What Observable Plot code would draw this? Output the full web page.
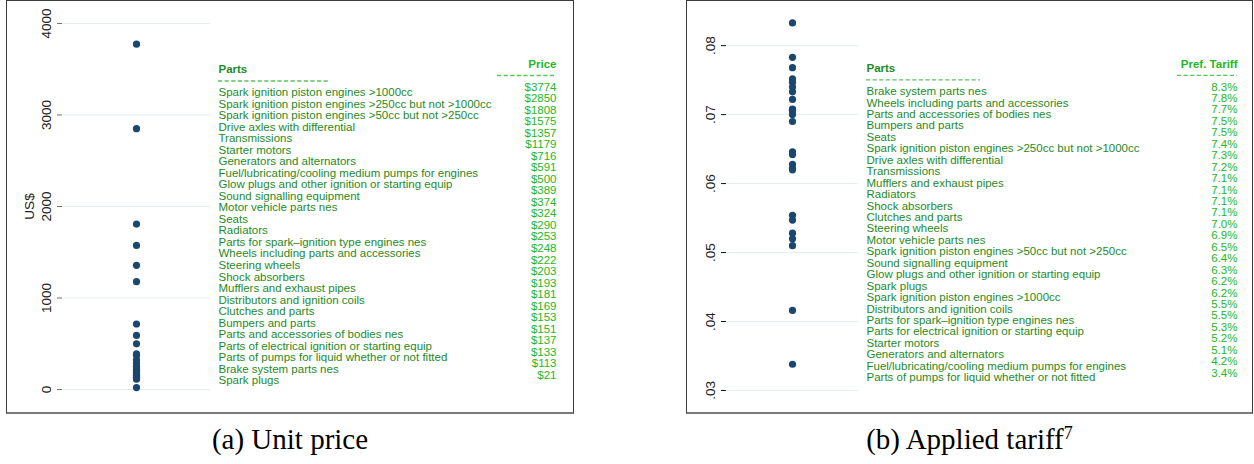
<!DOCTYPE html>
<html><head><meta charset="utf-8">
<script src="https://cdn.jsdelivr.net/npm/d3@7"></script>
<script src="https://cdn.jsdelivr.net/npm/@observablehq/plot@0.6"></script>
<style>
html,body{margin:0;padding:0;background:#fff;}
#wrap{position:relative;width:1254px;height:464px;overflow:hidden;font-family:"Liberation Sans",Arial,Helvetica,sans-serif;}
.panel{position:absolute;top:0;height:414px;border:1px solid #3a3a3a;border-bottom:2px solid #7a7a7a;box-sizing:border-box;}
.layer{position:absolute;top:0;}
.cap{position:absolute;top:425px;font-family:"Liberation Serif","Times New Roman",serif;font-size:29px;line-height:29px;text-align:center;white-space:nowrap;color:#000;}
.cap sup{font-size:18px;line-height:0;vertical-align:10px;}
</style></head><body><div id="wrap"></div>
<script>
// ---------- data ----------
const priceParts = [
  "Spark ignition piston engines >1000cc",
  "Spark ignition piston engines >250cc but not >1000cc",
  "Spark ignition piston engines >50cc but not >250cc",
  "Drive axles with differential",
  "Transmissions",
  "Starter motors",
  "Generators and alternators",
  "Fuel/lubricating/cooling medium pumps for engines",
  "Glow plugs and other ignition or starting equip",
  "Sound signalling equipment",
  "Motor vehicle parts nes",
  "Seats",
  "Radiators",
  "Parts for spark\u2013ignition type engines nes",
  "Wheels including parts and accessories",
  "Steering wheels",
  "Shock absorbers",
  "Mufflers and exhaust pipes",
  "Distributors and ignition coils",
  "Clutches and parts",
  "Bumpers and parts",
  "Parts and accessories of bodies nes",
  "Parts of electrical ignition or starting equip",
  "Parts of pumps for liquid whether or not fitted",
  "Brake system parts nes",
  "Spark plugs"
];
const priceValues = [3774, 2850, 1808, 1575, 1357, 1179, 716, 591, 500, 389, 374, 324, 290, 253, 248, 222, 203, 193, 181, 169, 153, 151, 137, 133, 113, 21];

const tariffParts = [
  "Brake system parts nes",
  "Wheels including parts and accessories",
  "Parts and accessories of bodies nes",
  "Bumpers and parts",
  "Seats",
  "Spark ignition piston engines >250cc but not >1000cc",
  "Drive axles with differential",
  "Transmissions",
  "Mufflers and exhaust pipes",
  "Radiators",
  "Shock absorbers",
  "Clutches and parts",
  "Steering wheels",
  "Motor vehicle parts nes",
  "Spark ignition piston engines >50cc but not >250cc",
  "Sound signalling equipment",
  "Glow plugs and other ignition or starting equip",
  "Spark plugs",
  "Spark ignition piston engines >1000cc",
  "Distributors and ignition coils",
  "Parts for spark\u2013ignition type engines nes",
  "Parts for electrical ignition or starting equip",
  "Starter motors",
  "Generators and alternators",
  "Fuel/lubricating/cooling medium pumps for engines",
  "Parts of pumps for liquid whether or not fitted"
];
// preferential tariff, percent
const tariffValues = [8.33, 7.83, 7.68, 7.52, 7.47, 7.4, 7.33, 7.22, 7.08, 7.07, 7.06, 7.06, 7.0, 6.9, 6.46, 6.42, 6.28, 6.22, 6.2, 5.54, 5.47, 5.28, 5.2, 5.1, 4.16, 3.38];

const priceTicks = [0, 1000, 2000, 3000, 4000];
const tariffTicks = [0.03, 0.04, 0.05, 0.06, 0.07, 0.08];
const priceHeader = ["Parts", "Price"];
const tariffHeader = ["Parts", "Pref. Tariff"];
const priceAxisLabel = "US$";
const captionA = "(a) Unit price";
const captionB = "(b) Applied tariff";
const footnoteB = "7";

// ---------- styles ----------
const FONT = "'Liberation Sans', Arial, Helvetica, sans-serif";
const NAVY = "#1a476f";
const GRID = "#e4edf0";
const NAME_GREEN = "#1f8a1f";
const VALUE_GREEN = "#25b625";
const DASH_GREEN = "#5cc45c";

const wrap = document.getElementById("wrap");

function addPanel(left, width) {
  const d = document.createElement("div");
  d.className = "panel";
  d.style.left = left + "px";
  d.style.width = width + "px";
  wrap.appendChild(d);
}

function addLayer(svg, left) {
  svg.classList.add("layer");
  svg.style.left = left + "px";
  wrap.appendChild(svg);
}

function dotsPlot(o) {
  return Plot.plot({
    width: o.width, height: 410,
    marginLeft: o.marginLeft, marginRight: 0, marginTop: 15, marginBottom: 13,
    style: {background: "transparent", fontFamily: FONT, fontSize: "13.5px", color: "#111", overflow: "visible"},
    y: {domain: o.domain},
    marks: [
      Plot.gridY(o.ticks, {stroke: GRID, strokeOpacity: 1, strokeWidth: 1}),
      Plot.axisY(o.ticks, {
        tickFormat: o.tickFormat, tickRotate: -90, tickSize: 5, tickPadding: 7,
        line: true, stroke: o.axisColor, fill: "#222",
        label: o.label, labelAnchor: "center", labelArrow: "none", labelOffset: o.labelOffset
      }),
      Plot.dot(o.values, {y: Plot.identity, r: 3.6, fill: NAVY, stroke: "none"})
    ]
  });
}

function tablePlot(o) {
  const rows = o.parts.map((p, i) => ({row: i, name: p, value: o.fmt(o.values[i])}));
  const headRow = -2, dashRow = -1;
  const common = {fontSize: 11.5};
  const span = o.x1 - o.x0;
  return Plot.plot({
    width: o.width, height: 414,
    marginLeft: o.x0, marginRight: o.width - o.x1, marginTop: o.y0, marginBottom: 414 - o.y1,
    style: {background: "transparent", fontFamily: FONT, overflow: "visible"},
    x: {type: "point", domain: ["name", "value"], padding: 0, axis: null},
    y: {domain: [headRow, o.parts.length - 1], reverse: true, axis: null},
    marks: [
      Plot.text([o.header[0]], {x: () => "name", y: () => headRow, text: Plot.identity, textAnchor: "start", fontWeight: "bold", fill: NAME_GREEN, ...common}),
      Plot.text([o.header[1]], {x: () => "value", y: () => headRow, dy: o.valueDy, text: Plot.identity, textAnchor: "end", fontWeight: "bold", fill: VALUE_GREEN, ...common}),
      // dashed underlines below the two column headers
      Plot.ruleY([dashRow], {insetRight: span - o.nameDash, stroke: DASH_GREEN, strokeWidth: 1.3, strokeDasharray: "4.2,2.4"}),
      Plot.ruleY([dashRow], {insetLeft: span - o.valueDash, dy: o.valueDy, stroke: DASH_GREEN, strokeWidth: 1.3, strokeDasharray: "4.2,2.4"}),
      Plot.text(rows, {x: () => "name", y: "row", text: "name", textAnchor: "start", fill: NAME_GREEN, ...common}),
      Plot.text(rows, {x: () => "value", y: "row", dy: o.valueDy, text: "value", textAnchor: "end", fill: VALUE_GREEN, ...common})
    ]
  });
}

// ---------- panel (a) ----------
addPanel(6, 568);
addLayer(dotsPlot({
  width: 210, marginLeft: 62, domain: [-87, 4087], ticks: priceTicks,
  tickFormat: d3.format("d"), label: priceAxisLabel, labelOffset: 38,
  axisColor: "#707070", values: priceValues
}), 0);
addLayer(tablePlot({
  width: 574, x0: 218, x1: 556, y0: 69, y1: 380, valueDy: -5.5, nameDash: 110, valueDash: 59,
  parts: priceParts, values: priceValues, header: priceHeader,
  fmt: v => "$" + v
}), 0);

// ---------- panel (b) ----------
addPanel(686, 567);
addLayer(dotsPlot({
  width: 172, marginLeft: 40, domain: [0.02898, 0.08437], ticks: tariffTicks,
  tickFormat: d => d3.format(".2f")(d).replace(/^0/, ""), label: null, labelOffset: 30,
  axisColor: "#111", values: tariffValues.map(v => v / 100)
}), 686);
addLayer(tablePlot({
  width: 567, x0: 180, x1: 551, y0: 68, y1: 377, valueDy: -4.5, nameDash: 114, valueDash: 60,
  parts: tariffParts, values: tariffValues, header: tariffHeader,
  fmt: v => v.toFixed(1) + "%"
}), 686);

// ---------- captions ----------
const capA = document.createElement("div");
capA.className = "cap";
capA.style.left = "6px"; capA.style.width = "568px";
capA.textContent = captionA;
wrap.appendChild(capA);
const capB = document.createElement("div");
capB.className = "cap";
capB.style.left = "686px"; capB.style.width = "567px";
capB.textContent = captionB;
const sup = document.createElement("sup");
sup.textContent = footnoteB;
capB.appendChild(sup);
wrap.appendChild(capB);
</script>
</body></html>
